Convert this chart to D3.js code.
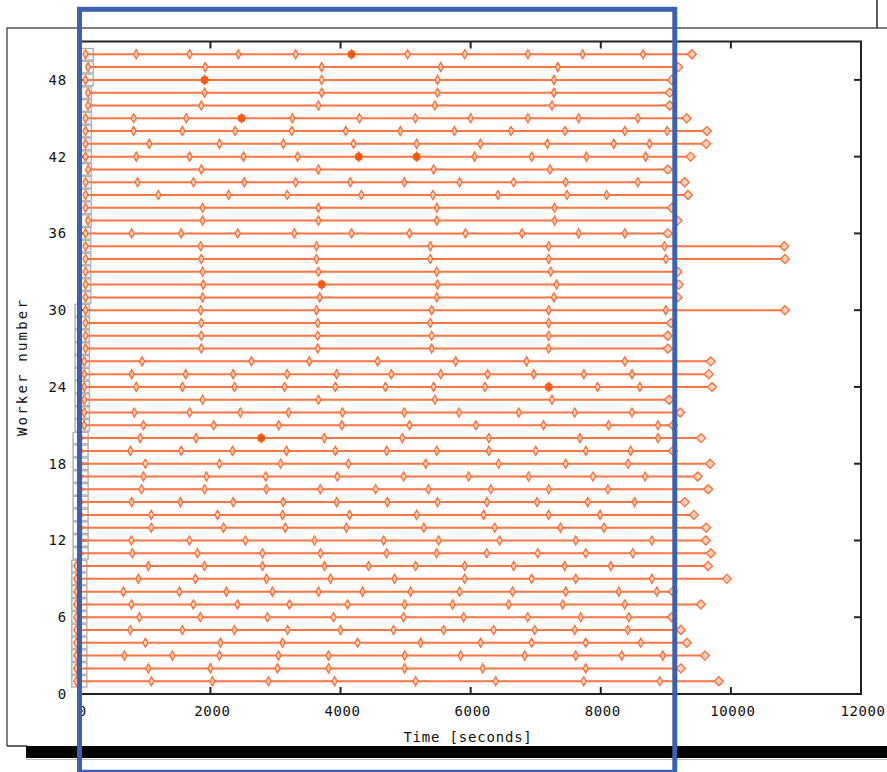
<!DOCTYPE html>
<html>
<head>
<meta charset="utf-8">
<script src="https://cdn.jsdelivr.net/npm/d3@7"></script>
<style>
	body { margin: 0; background: #fff; }
	svg { display: block; }
	text { font-family: "DejaVu Sans Mono", monospace; fill: #111; }
</style>
</head>
<body>
<svg id="svg" width="887" height="772"></svg>
<script>
"use strict";

// task boundary times (seconds) per worker, worker 1 first; last value = finish
const taskTimes = [
	[-60, 1092, 2031, 2892, 3908, 5154, 6385, 7738, 8908, 9815],
	[-60, 1046, 2000, 3031, 3815, 4985, 6185, 7769, 9231],
	[-60, 677, 1415, 2138, 3046, 3815, 4985, 5846, 6831, 7615, 8323, 8954, 9600],
	[-60, 1000, 2154, 3108, 4262, 5231, 6154, 6938, 7769, 8615, 9323],
	[-60, 769, 1569, 2369, 3185, 4000, 4815, 5585, 6354, 6985, 7600, 8415, 9231],
	[-60, 908, 1846, 2877, 3892, 4969, 5892, 6877, 7692, 8431, 9092],
	[-60, 785, 1738, 2415, 3215, 4108, 4985, 5723, 6585, 7415, 8369, 9538],
	[-60, 662, 1523, 2246, 2954, 3662, 4338, 5077, 5831, 6646, 7462, 8277, 8862, 9108],
	[-60, 892, 1769, 2862, 3846, 4831, 5908, 6938, 7615, 8785, 9938],
	[-60, 1046, 1908, 2800, 3754, 4431, 5154, 5908, 6662, 7446, 8154, 9646],
	[0, 800, 1800, 2800, 3692, 4708, 5477, 6246, 7031, 7769, 8492, 9692],
	[0, 785, 1677, 2538, 3600, 4662, 5508, 6446, 7615, 8785, 9615],
	[0, 1090, 2200, 3150, 4090, 5280, 6370, 7380, 8050, 9620],
	[0, 1090, 2110, 3110, 4140, 5170, 6200, 7200, 7990, 9430],
	[0, 790, 1540, 2350, 3120, 3940, 4720, 5490, 6250, 7020, 7800, 8520, 9290],
	[0, 940, 1910, 2860, 3690, 4540, 5350, 6310, 7200, 8110, 9650],
	[0, 970, 1940, 2850, 3950, 4970, 5970, 6890, 7880, 8680, 9490],
	[0, 1000, 2140, 3080, 4120, 5310, 6430, 7460, 8420, 9680],
	[0, 770, 1550, 2340, 3170, 3920, 4710, 5480, 6280, 7000, 7770, 8460, 9110],
	[0, 920, 1780, 2780, 3750, 4950, 6280, 7680, 8880, 9540],
	[60, 970, 2050, 3050, 4020, 5060, 6080, 7120, 8120, 8880, 9110],
	[60, 830, 1680, 2460, 3200, 4030, 4980, 5820, 6740, 7600, 8480, 9220],
	[60, 1880, 3660, 5450, 7250, 9050],
	[60, 860, 1570, 2370, 3140, 3920, 4690, 5430, 6220, 7200, 7950, 8600, 9710],
	[60, 790, 1620, 2350, 3180, 3940, 4780, 5540, 6260, 6970, 7740, 8480, 9660],
	[60, 950, 2630, 3520, 4570, 5770, 6860, 8370, 9690],
	[80, 1860, 3650, 5400, 7200, 9030],
	[80, 1860, 3650, 5400, 7200, 9030],
	[80, 1860, 3650, 5380, 7200, 9080],
	[80, 1850, 3630, 5400, 7200, 9000, 10830],
	[80, 1880, 3680, 5480, 7280, 9180],
	[80, 1890, 3710, 5490, 7320, 9200],
	[80, 1880, 3660, 5480, 7230, 9180],
	[80, 1860, 3630, 5380, 7200, 9000, 10830],
	[80, 1850, 3630, 5380, 7200, 8980, 10820],
	[80, 790, 1550, 2420, 3290, 4170, 5060, 5920, 6790, 7660, 8370, 9030],
	[120, 1880, 3660, 5480, 7290, 9180],
	[80, 1880, 3660, 5480, 7290, 9090],
	[80, 1200, 2280, 3180, 4320, 5420, 6420, 7480, 8090, 9340],
	[80, 880, 1740, 2520, 3310, 4150, 4980, 5830, 6660, 7460, 8570, 9290],
	[120, 1860, 3660, 5430, 7220, 9030],
	[80, 860, 1680, 2510, 3340, 4280, 5170, 6060, 6940, 7780, 8690, 9380],
	[80, 1060, 2140, 3120, 4200, 5170, 6150, 7180, 8200, 8750, 9620],
	[80, 820, 1570, 2380, 3250, 4080, 4920, 5750, 6620, 7450, 8370, 9020, 9630],
	[80, 820, 1630, 2480, 3260, 4290, 5150, 6000, 6880, 7660, 8570, 9320],
	[120, 1860, 3660, 5450, 7250, 9060],
	[120, 1910, 3710, 5490, 7280, 9060],
	[80, 1910, 3710, 5490, 7280, 9090],
	[120, 1920, 3710, 5540, 7340, 9190],
	[80, 860, 1680, 2430, 3310, 4170, 5030, 5910, 6880, 7720, 8650, 9400],
];

// highlighted (filled) events: [worker, time]
const filledMarks = [
	[50, 4170], [48, 1910], [45, 2480], [42, 4280],
	[42, 5170], [32, 3710], [24, 7200], [20, 2780],
];

// grey startup boxes per worker (worker 1 first)
const bootStart = [
	-130, -130, -130, -130, -130, -130, -130, -130, -130, -130,
	-110, -110, -110, -110, -110, -110, -110, -110, -110, -110,
	-80, -80, -80, -80, -80, -80, -80, -80, -80, -80,
	0, 0, 0, 0, 0, 0, 0, 0, 0, 0,
	0, 0, 0, 0, 0, 0, 0, 0, 0, 0,
];
const bootEnd = [
	100, 100, 100, 100, 100, 100, 100, 100, 100, 100,
	120, 120, 120, 120, 120, 120, 120, 120, 120, 120,
	140, 140, 140, 140, 140, 140, 140, 140, 140, 140,
	160, 160, 160, 160, 160, 160, 170, 170, 170, 170,
	170, 170, 170, 170, 170, 170, 170, 200, 200, 200,
];

const xTicks = [0, 2000, 4000, 6000, 8000, 10000, 12000];
const yTicks = [0, 6, 12, 18, 24, 30, 36, 42, 48];

const svg = d3.select("#svg");

const plot = { left: 80.3, right: 861, top: 41.5, bottom: 694 };
const x = d3.scaleLinear().domain([0, 12000]).range([plot.left, plot.right]);
const y = d3.scaleLinear().domain([0, 51]).range([plot.bottom, plot.top]);

const lineColor = "#ff7440";
const markStroke = "#ff6a33";
const markFill = "#ffd3bd";

// window frame around the screenshot
svg.append("path")
	.attr("d", "M7,746 L7,28 L887,28")
	.attr("fill", "none")
	.attr("stroke", "#555")
	.attr("stroke-width", 1.5);
svg.append("line")
	.attr("x1", 877).attr("x2", 877)
	.attr("y1", 0).attr("y2", 28)
	.attr("stroke", "#222")
	.attr("stroke-width", 1.5);
svg.append("line")
	.attr("x1", 7).attr("x2", 27)
	.attr("y1", 746).attr("y2", 746)
	.attr("stroke", "#333")
	.attr("stroke-width", 1.5);
svg.append("rect")
	.attr("x", 26).attr("y", 746)
	.attr("width", 861).attr("height", 12)
	.attr("fill", "#000");
svg.append("line")
	.attr("x1", 26).attr("x2", 887)
	.attr("y1", 759.5).attr("y2", 759.5)
	.attr("stroke", "#bbb")
	.attr("stroke-width", 1);

// plot frame + inward ticks on all sides
const frame = svg.append("g").attr("id", "frame");
frame.append("rect")
	.attr("x", plot.left).attr("y", plot.top)
	.attr("width", plot.right - plot.left)
	.attr("height", plot.bottom - plot.top)
	.attr("fill", "none")
	.attr("stroke", "#222")
	.attr("stroke-width", 2);

const tickLen = 7;
frame.selectAll(".xtickB")
	.data(xTicks)
	.enter()
	.append("line")
	.attr("x1", (d) => x(d)).attr("x2", (d) => x(d))
	.attr("y1", plot.bottom).attr("y2", plot.bottom - tickLen)
	.attr("stroke", "#222").attr("stroke-width", 2);
frame.selectAll(".xtickT")
	.data(xTicks)
	.enter()
	.append("line")
	.attr("x1", (d) => x(d)).attr("x2", (d) => x(d))
	.attr("y1", plot.top).attr("y2", plot.top + tickLen)
	.attr("stroke", "#222").attr("stroke-width", 2);
frame.selectAll(".ytickL")
	.data(yTicks)
	.enter()
	.append("line")
	.attr("x1", plot.left).attr("x2", plot.left + tickLen)
	.attr("y1", (d) => y(d)).attr("y2", (d) => y(d))
	.attr("stroke", "#222").attr("stroke-width", 2);
frame.selectAll(".ytickR")
	.data(yTicks)
	.enter()
	.append("line")
	.attr("x1", plot.right).attr("x2", plot.right - tickLen)
	.attr("y1", (d) => y(d)).attr("y2", (d) => y(d))
	.attr("stroke", "#222").attr("stroke-width", 2);

// tick labels
frame.selectAll(".xlab")
	.data(xTicks)
	.enter()
	.append("text")
	.attr("x", (d) => x(d) + 2)
	.attr("y", 716)
	.attr("text-anchor", "middle")
	.attr("font-size", "14px")
	.attr("letter-spacing", "0.6px")
	.text((d) => d);
frame.selectAll(".ylab")
	.data(yTicks)
	.enter()
	.append("text")
	.attr("x", 67)
	.attr("y", (d) => y(d) + 5)
	.attr("text-anchor", "end")
	.attr("font-size", "14px")
	.attr("letter-spacing", "0.8px")
	.text((d) => d);

svg.append("text")
	.text("Time [seconds]")
	.attr("x", 468)
	.attr("y", 742)
	.attr("text-anchor", "middle")
	.attr("font-size", "14px")
	.attr("letter-spacing", "0.8px");
svg.append("text")
	.text("Worker number")
	.attr("transform", "translate(27,367) rotate(-90)")
	.attr("text-anchor", "middle")
	.attr("font-size", "14px")
	.attr("letter-spacing", "2.2px");

const g = svg.append("g").attr("id", "gantt");
const workers = d3.range(1, taskTimes.length + 1);
const band = y(0) - y(1);

// startup boxes
g.selectAll(".boot")
	.data(workers)
	.enter()
	.append("rect")
	.attr("class", "boot")
	.attr("x", (w) => x(bootStart[w - 1]))
	.attr("y", (w) => y(w) - band * 0.45)
	.attr("width", (w) => x(bootEnd[w - 1]) - x(bootStart[w - 1]))
	.attr("height", band * 0.9)
	.attr("fill", "none")
	.attr("stroke", "#b4b4b4")
	.attr("stroke-width", 1.5);

// worker lines
g.selectAll(".wline")
	.data(workers)
	.enter()
	.append("line")
	.attr("class", "wline")
	.attr("x1", (w) => x(taskTimes[w - 1][0]))
	.attr("x2", (w) => x(taskTimes[w - 1][taskTimes[w - 1].length - 1]))
	.attr("y1", (w) => y(w))
	.attr("y2", (w) => y(w))
	.attr("stroke", lineColor)
	.attr("stroke-width", 2);

// task boundary markers
const marks = [];
workers.forEach((w) => {
	const t = taskTimes[w - 1];
	t.forEach((v, i) => marks.push({ w: w, t: v, end: i === t.length - 1 }));
});

g.selectAll(".mark")
	.data(marks)
	.enter()
	.append("path")
	.attr("class", "mark")
	.attr("transform", (d) => `translate(${x(d.t)},${y(d.w)})`)
	.attr("d", (d) =>
		d.end ? "M0,-4.5L4.5,0L0,4.5L-4.5,0Z" : "M0,-4.5L2.6,0L0,4.5L-2.6,0Z"
	)
	.attr("fill", markFill)
	.attr("stroke", markStroke)
	.attr("stroke-width", 1.3);

g.selectAll(".filled")
	.data(filledMarks)
	.enter()
	.append("circle")
	.attr("class", "filled")
	.attr("cx", (d) => x(d[1]))
	.attr("cy", (d) => y(d[0]))
	.attr("r", 4)
	.attr("fill", "#ff5a14");

// blue highlight box drawn over everything
svg.append("rect")
	.attr("x", 79.5)
	.attr("y", 9.3)
	.attr("width", 595.3)
	.attr("height", 763)
	.attr("fill", "none")
	.attr("stroke", "#3a62b0")
	.attr("stroke-width", 5);
</script>
</body>
</html>
